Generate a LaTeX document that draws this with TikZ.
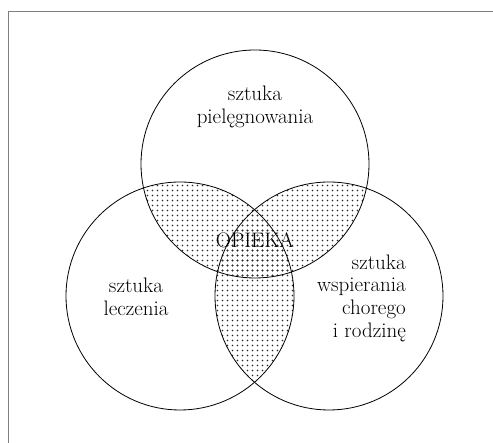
\documentclass[tikz,border=0pt]{standalone}
\begin{document}
\begin{tikzpicture}[x=1pt, y=1pt,
    circ/.style={draw, line width=0.8pt},
    dot/.style={fill=black!85},
    lbl/.style={font=\fontsize{21}{22.7}\selectfont, inner sep=0pt},
  ]
  \useasboundingbox (0,0) rectangle (493,443);
  \draw[gray, line width=1.5pt] (8.5,0) -- (8.5,431.5) -- (493,431.5);
  \coordinate (top) at (255,279);
  \coordinate (left) at (180,147);
  \coordinate (right) at (329,147);
  % dotted overlaps
  \foreach \a/\b/\xa/\xb/\ya/\yb in {top/left/140/295/160/270, top/right/215/370/160/270, left/right/210/300/30/210} {
    \begin{scope}
      \clip (\a) circle (114);
      \clip (\b) circle (114);
      \pgfmathtruncatemacro{\ia}{\xa/5}
      \pgfmathtruncatemacro{\ib}{\xb/5}
      \pgfmathtruncatemacro{\ja}{\ya/5}
      \pgfmathtruncatemacro{\jb}{\yb/5}
      \foreach \i in {\ia,...,\ib} {
        \foreach \j in {\ja,...,\jb} {
          \fill[dot] (5*\i+2.5, 5*\j+2.5) circle (0.95);
        }
      }
    \end{scope}
  }
  \draw[circ] (top) circle (114);
  \draw[circ] (left) circle (114);
  \draw[circ] (right) circle (114);
  \node[lbl, align=center] (pieleg) at (255,336) {sztuka\\piel\k{e}gnowania};
  \node[lbl, align=center] (leczenie) at (136,146) {sztuka\\leczenia};
  \node[lbl, align=right, anchor=east] (wspier) at (406,145) {sztuka\\wspierania\\chorego\\i rodzin\k{e}};
  \node[lbl] (opieka) at (255,203) {OPIEKA};
\end{tikzpicture}
\end{document}
